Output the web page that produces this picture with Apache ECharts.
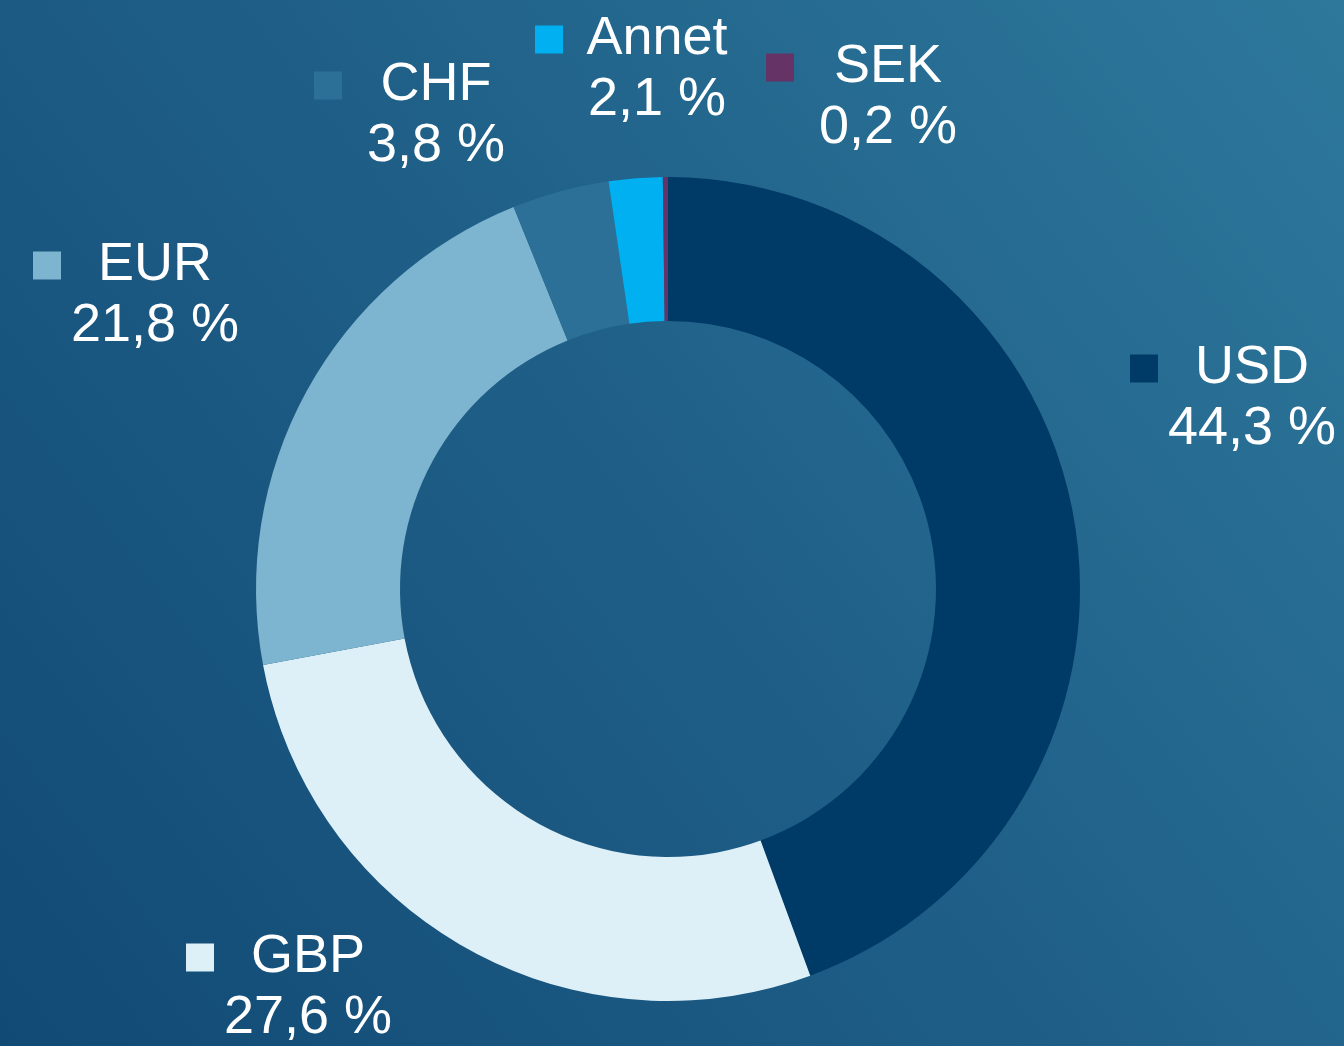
<!DOCTYPE html>
<html>
<head>
<meta charset="utf-8">
<title>Valutafordeling</title>
<script src="https://cdn.jsdelivr.net/npm/echarts@6/dist/echarts.min.js"></script>
<style>
  html, body { margin: 0; padding: 0; }
  #chart { width: 1344px; height: 1046px; }
</style>
</head>
<body>
<div id="chart"></div>
<script>
  // andel per valuta (prosent)
  var currencies = ['USD', 'GBP', 'EUR', 'CHF', 'Annet', 'SEK'];
  var shares = [44.3, 27.6, 21.8, 3.8, 2.1, 0.2];
  var sliceColors = ['#003a66', '#ddf0f8', '#7db4cf', '#2c7098', '#00b0f0', '#663366'];

  // plassering av etikettene (senter av tekstblokka)
  var labelPos = {
    USD:   [1238, 399],
    GBP:   [294, 988],
    EUR:   [141, 296],
    CHF:   [422, 116],
    Annet: [643, 70],
    SEK:   [874, 98]
  };

  var chart = echarts.init(document.getElementById('chart'));

  var pieData = currencies.map(function (name, i) {
    return {
      name: name,
      value: shares[i],
      itemStyle: { color: sliceColors[i] },
      label: {
        rich: {
          sq: { width: 28, height: 28, backgroundColor: sliceColors[i] }
        }
      }
    };
  });

  var option = {
    backgroundColor: {
      type: 'linear', x: 0, y: 1, x2: 1, y2: 0,
      colorStops: [
        { offset: 0, color: '#114a75' },
        { offset: 0.5, color: '#1f5f87' },
        { offset: 1, color: '#2e789c' }
      ]
    },
    animation: false,
    series: [
      {
        type: 'pie',
        center: [668, 589],
        radius: [268, 412],
        startAngle: 90,
        clockwise: true,
        avoidLabelOverlap: false,
        labelLine: { show: false },
        label: {
          show: true,
          position: 'outside',
          color: '#ffffff',
          fontFamily: 'Liberation Sans, Arial, sans-serif',
          fontSize: 54,
          lineHeight: 61,
          formatter: function (p) {
            var v = p.value.toFixed(1).replace('.', ',') + ' %';
            return '{sq|}{nm|' + p.name + '}\n{pad|}{nm|' + v + '}';
          },
          rich: {
            nm: {
              width: 188, align: 'center', color: '#ffffff',
              fontFamily: 'Liberation Sans, Arial, sans-serif',
              fontSize: 54, lineHeight: 61
            },
            pad: { width: 28, height: 28 }
          }
        },
        labelLayout: function (params) {
          var pos = labelPos[currencies[params.dataIndex]];
          return { x: pos[0], y: pos[1], align: 'center', verticalAlign: 'middle' };
        },
        data: pieData
      }
    ]
  };

  chart.setOption(option);
  window.addEventListener('resize', function () {
    chart.resize();
  });
</script>
</body>
</html>
